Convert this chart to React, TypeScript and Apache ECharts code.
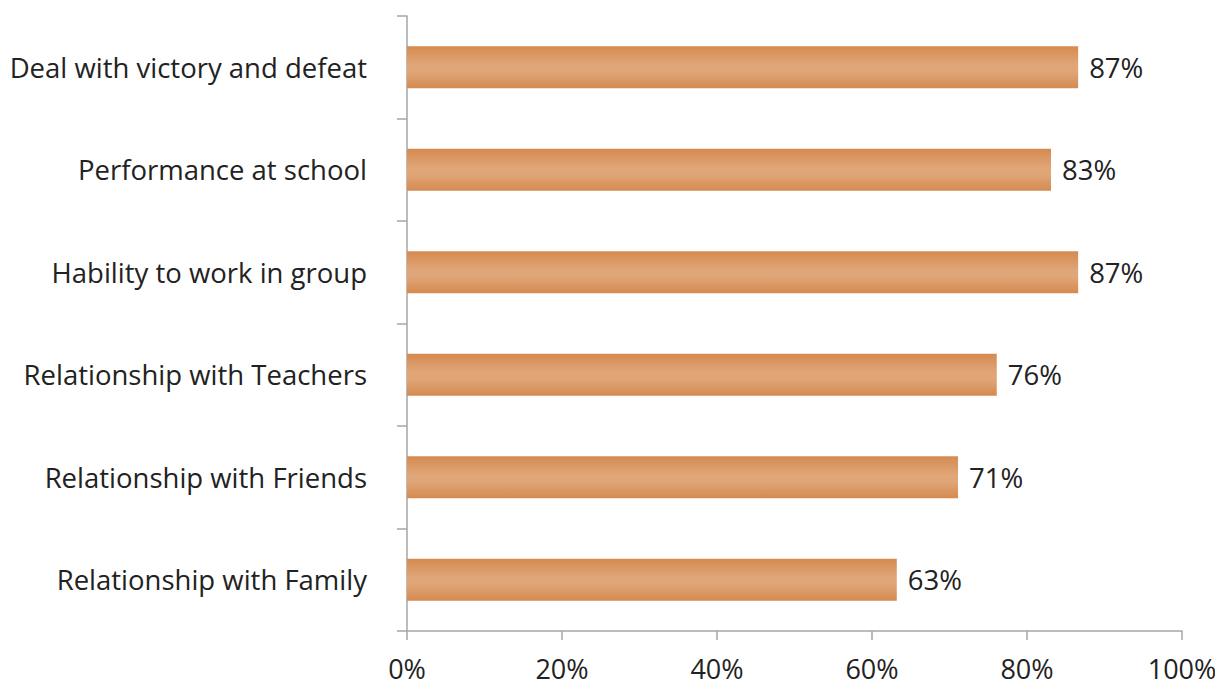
import React, { useEffect, useRef } from "react";
import * as echarts from "echarts";

const categories = [
  "Deal with victory and defeat",
  "Performance at school",
  "Hability to work in group",
  "Relationship with Teachers",
  "Relationship with Friends",
  "Relationship with Family",
];
const values = [86.6, 83.1, 86.6, 76.1, 71.1, 63.2];
const xTicks = [0, 20, 40, 60, 80, 100];

export default function App() {
  const ref = useRef<HTMLDivElement>(null);
  useEffect(() => {
    if (!ref.current) return;
    const chart = echarts.init(ref.current, null, { renderer: "svg" });
    const font = "'Open Sans', 'Noto Sans', sans-serif";
    chart.setOption({
      animation: false,
      grid: { left: 407, right: 41, top: 16, bottom: 56, containLabel: false },
      xAxis: {
        type: "value",
        min: xTicks[0],
        max: xTicks[xTicks.length - 1],
        interval: 20,
        splitLine: { show: false },
        axisLine: { show: true, lineStyle: { color: "#A6A6A6", width: 1.5 } },
        axisTick: { show: true, length: 9, lineStyle: { color: "#A6A6A6", width: 1.5 } },
        axisLabel: {
          formatter: "{value}%",
          color: "#222",
          fontSize: 27,
          fontFamily: font,
          margin: 24,
        },
      },
      yAxis: {
        type: "category",
        inverse: true,
        data: categories,
        axisLine: { show: true, lineStyle: { color: "#A6A6A6", width: 1.5 } },
        axisTick: { show: true, length: 10, lineStyle: { color: "#A6A6A6", width: 1.5 } },
        axisLabel: {
          color: "#222",
          fontSize: 27.5,
          fontFamily: font,
          margin: 40,
        },
      },
      series: [
        {
          type: "bar",
          data: values,
          barWidth: "41%",
          itemStyle: {
            color: new echarts.graphic.LinearGradient(0, 0, 0, 1, [
              { offset: 0, color: "#D58A50" },
              { offset: 0.45, color: "#E0A678" },
              { offset: 0.6, color: "#E0A678" },
              { offset: 1, color: "#D58A50" },
            ]),
          },
          label: {
            show: true,
            position: "right",
            distance: 11,
            formatter: (p: any) => Math.round(p.value) + "%",
            color: "#222",
            fontSize: 27.5,
            fontFamily: font,
          },
        },
      ],
    });
    return () => chart.dispose();
  }, []);
  return <div ref={ref} style={{ width: 1223, height: 687, margin: -8 }} />;
}
